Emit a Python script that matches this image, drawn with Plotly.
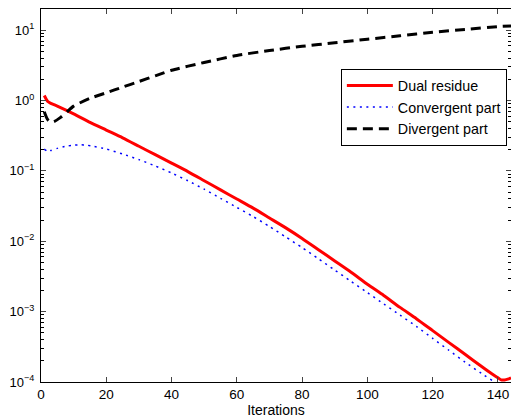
import plotly.graph_objects as go

# ---- data (log10 values) ----
dual_x = [1, 2, 3, 5, 10, 15, 20, 25, 30, 35, 40, 45, 50, 55, 60, 65, 70, 75, 80,
          85, 90, 95, 100, 105, 110, 115, 120, 125, 130, 135, 138, 140, 141, 142, 143, 144]
dual_log = [0.07, -0.01, -0.04, -0.08, -0.19, -0.31, -0.42, -0.53, -0.65, -0.77, -0.89,
            -1.01, -1.14, -1.27, -1.40, -1.53, -1.67, -1.81, -1.96, -2.12, -2.28, -2.44,
            -2.61, -2.77, -2.94, -3.10, -3.27, -3.44, -3.61, -3.78, -3.88, -3.94, -3.97,
            -3.97, -3.96, -3.94]

conv_x = [1, 2, 3, 5, 8, 10, 12, 14, 16, 20, 25, 30, 35, 40, 45, 50, 55, 60, 65, 70,
          75, 80, 85, 90, 95, 100, 105, 110, 115, 120, 125, 130, 135, 140, 142, 143]
conv_log = [-0.69, -0.72, -0.71, -0.68, -0.645, -0.635, -0.63, -0.635, -0.65, -0.69,
            -0.76, -0.84, -0.93, -1.03, -1.14, -1.26, -1.39, -1.52, -1.65, -1.79, -1.94,
            -2.09, -2.25, -2.41, -2.57, -2.73, -2.89, -3.05, -3.21, -3.38, -3.55, -3.72,
            -3.88, -4.03, -4.08, -4.10]

div_x = [1, 2, 3, 4, 6, 8, 10, 15, 20, 25, 30, 35, 40, 50, 60, 70, 80, 90, 100, 110,
         120, 130, 140, 144]
div_log = [-0.16, -0.27, -0.31, -0.30, -0.24, -0.16, -0.08, 0.03, 0.11, 0.19, 0.27,
           0.35, 0.43, 0.54, 0.64, 0.71, 0.77, 0.82, 0.87, 0.92, 0.97, 1.01, 1.05, 1.06]

x_ticks = [0, 20, 40, 60, 80, 100, 120, 140]
y_exps = [-4, -3, -2, -1, 0, 1]
y_ticktext = ["10<sup>" + ("−" + str(-e) if e < 0 else str(e)) + "</sup>" for e in y_exps]

dual = [10 ** v for v in dual_log]
conv = [10 ** v for v in conv_log]
div = [10 ** v for v in div_log]

fig = go.Figure()
fig.add_trace(go.Scatter(x=dual_x, y=dual, mode="lines", name="Dual residue",
                         line=dict(color="#ff0000", width=3, shape="spline", smoothing=0.6)))
fig.add_trace(go.Scatter(x=conv_x, y=conv, mode="lines", name="Convergent part",
                         line=dict(color="#0000ff", width=1.5, dash="2px,4.5px",
                                   shape="spline", smoothing=0.6)))
fig.add_trace(go.Scatter(x=div_x, y=div, mode="lines", name="Divergent part",
                         line=dict(color="#000000", width=3, dash="10px,6px",
                                   shape="spline", smoothing=0.6)))

minor_vals = [m * 10 ** e for e in range(-4, 2) for m in range(2, 10)]

fig.update_layout(
    width=511, height=418,
    margin=dict(l=41, r=0, t=9, b=36),
    paper_bgcolor="white", plot_bgcolor="white",
    font=dict(family="Liberation Sans, Arial, sans-serif", size=13, color="black"),
    showlegend=True,
    legend=dict(x=0.638, y=0.84, xanchor="left", yanchor="top",
                bgcolor="white", bordercolor="black", borderwidth=1,
                font=dict(size=14.3), tracegroupgap=0, itemwidth=46),
    xaxis=dict(range=[0, 144], tickvals=x_ticks, ticks="inside", ticklen=5,
               showline=True, linecolor="black", linewidth=1.2, mirror="ticks",
               showgrid=False, zeroline=False, automargin=False,
               tickfont=dict(size=13.5),
               title=dict(text="Iterations", standoff=4, font=dict(size=14))),
    yaxis=dict(type="log", range=[-4, 1.3], tickvals=[10 ** e for e in y_exps],
               ticktext=y_ticktext, ticks="inside", ticklen=5,
               showline=True, linecolor="black", linewidth=1.2, mirror="ticks",
               showgrid=False, zeroline=False, automargin=False,
               ticklabelstandoff=3, tickfont=dict(size=13),
               minor=dict(ticks="inside", ticklen=3, tickvals=minor_vals,
                          tickcolor="black", showgrid=False)),
)

fig.write_html(
    "out.html",
    config={"displayModeBar": False},
    post_script="document.body.style.margin='0';document.body.style.padding='0';"
                "document.documentElement.style.overflow='hidden';",
)
